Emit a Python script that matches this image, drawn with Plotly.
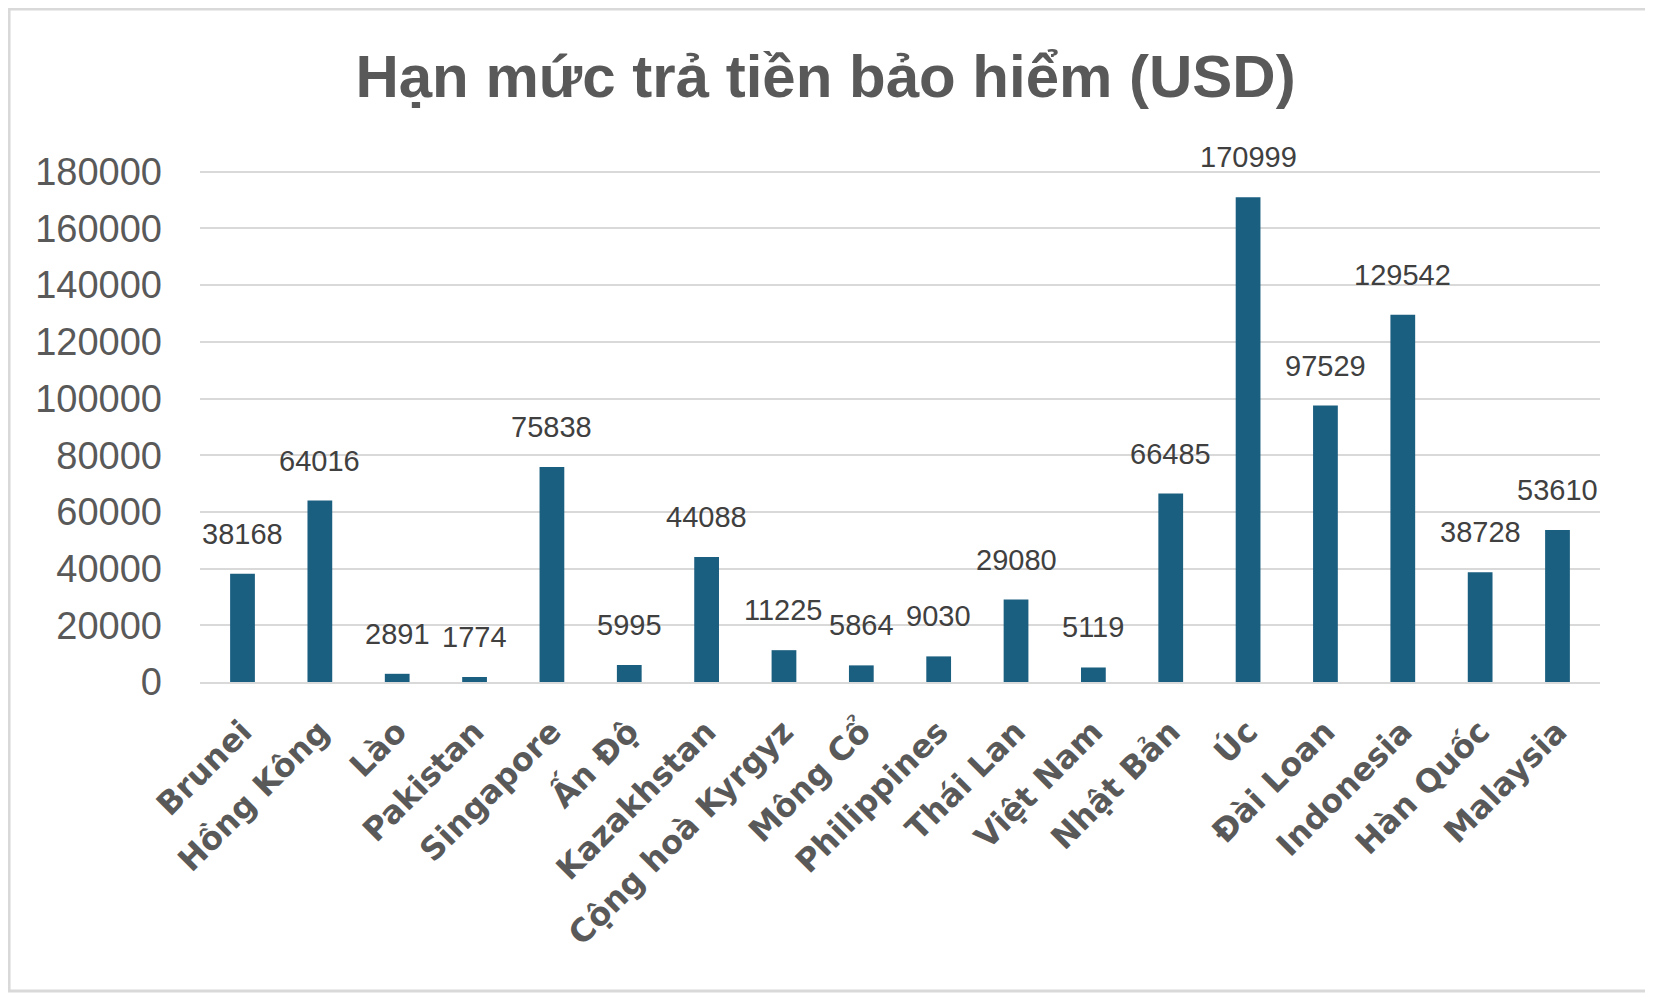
import plotly.graph_objects as go

countries = [
    "Brunei", "Hồng Kông", "Lào", "Pakistan", "Singapore", "Ấn Độ", "Kazakhstan",
    "Cộng hoà Kyrgyz", "Mông Cổ", "Philippines", "Thái Lan", "Việt Nam", "Nhật Bản",
    "Úc", "Đài Loan", "Indonesia", "Hàn Quốc", "Malaysia",
]
limits = [
    38168, 64016, 2891, 1774, 75838, 5995, 44088,
    11225, 5864, 9030, 29080, 5119, 66485,
    170999, 97529, 129542, 38728, 53610,
]
y_ticks = [0, 20000, 40000, 60000, 80000, 100000, 120000, 140000, 160000, 180000]

fig = go.Figure()
fig.add_trace(
    go.Bar(
        x=countries,
        y=limits,
        marker=dict(color="#1a5e80", line=dict(width=0)),
        width=0.32,
        hoverinfo="x+y",
    )
)

# data labels sit well above the bars, like the original
for c, v in zip(countries, limits):
    fig.add_annotation(
        x=c, y=v, text=str(v), showarrow=False,
        yanchor="middle", yshift=40,
        font=dict(family="Liberation Sans, Arial, sans-serif", size=29, color="#404040"),
    )

fig.update_layout(
    width=1645,
    height=985,
    paper_bgcolor="white",
    plot_bgcolor="white",
    showlegend=False,
    margin=dict(l=192, r=53, t=162, b=311),
    title=dict(
        text="<b>Hạn mức trả tiền bảo hiểm (USD)</b>",
        x=0.497,
        xanchor="center",
        y=0.931,
        yanchor="middle",
        font=dict(family="Liberation Sans, Arial, sans-serif", size=60, color="#595959"),
    ),
    xaxis=dict(
        tickangle=-45,
        tickfont=dict(family="DejaVu Sans, sans-serif", size=32, color="#595959", weight="bold"),
        showgrid=False,
        showline=True,
        linecolor="#d9d9d9",
        linewidth=2,
        ticks="",
        ticklabelstandoff=16,
    ),
    yaxis=dict(
        range=[0, 180600],
        tickvals=y_ticks,
        ticktext=[str(v) for v in y_ticks],
        tickfont=dict(family="Liberation Sans, Arial, sans-serif", size=38, color="#595959"),
        gridcolor="#d9d9d9",
        gridwidth=2,
        zeroline=False,
        showline=False,
        ticks="",
        ticklabelstandoff=37,
    ),
    shapes=[
        dict(
            type="rect", xref="paper", yref="paper",
            x0=-0.1364, x1=1.0364, y0=-0.6035, y1=1.3145,
            line=dict(color="#d9d9d9", width=3),
        )
    ],
)

fig.write_html("out.html")
